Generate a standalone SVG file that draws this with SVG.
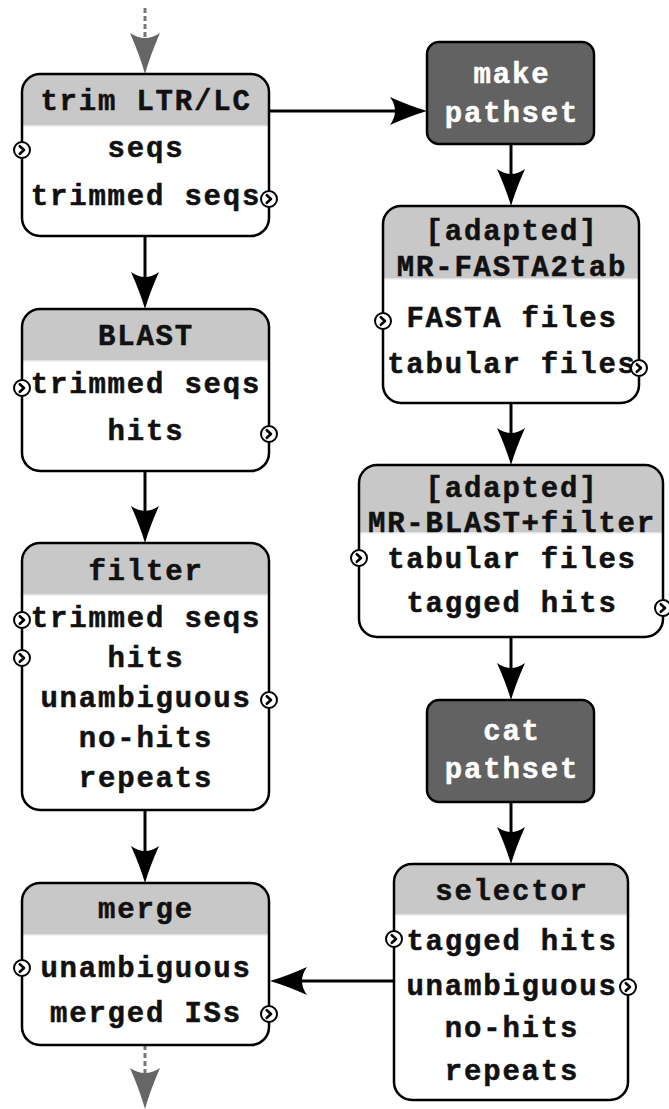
<svg xmlns="http://www.w3.org/2000/svg" xmlns:xlink="http://www.w3.org/1999/xlink" width="669" height="1109" viewBox="0 0 669 1109">
  <defs>
    <style>
      .box { fill: #ffffff; stroke: none; }
      .outline { fill: none; stroke: #000000; stroke-width: 2.5; }
      .hdr { fill: #c8c8c8; }
      .sep { stroke: #ececec; stroke-width: 1.5; }
      .dark { fill: #626262; stroke: #000000; stroke-width: 2.5; }
      .t { font-family: "Liberation Mono", "Courier New", monospace; font-weight: bold; font-size: 29px; letter-spacing: 1.8px; text-anchor: middle; fill: #111111; stroke: #111111; stroke-width: 0.5; }
      .w { fill: #ffffff; stroke: #ffffff; }
      .edge { fill: none; stroke: #000000; stroke-width: 3; }
      .dash { fill: none; stroke: #777777; stroke-width: 3; stroke-dasharray: 5 3; }
      .pc { fill: #ffffff; stroke: #000000; stroke-width: 2; }
      .pv { fill: none; stroke: #000000; stroke-width: 2.6; stroke-linecap: round; stroke-linejoin: round; }
    </style>
    <marker id="ah" viewBox="-12 -16 46 32" markerWidth="46" markerHeight="32" refX="0" refY="0" orient="auto" markerUnits="userSpaceOnUse">
      <path d="M29,0 Q12,-5 -8,-14 Q2,0 -8,14 Q12,5 29,0 Z" fill="#000000"/>
    </marker>
    <marker id="ahg" viewBox="-12 -17 48 34" markerWidth="48" markerHeight="34" refX="0" refY="0" orient="auto" markerUnits="userSpaceOnUse">
      <path d="M32,0 Q14,-5 -9,-15 Q1,0 -9,15 Q14,5 32,0 Z" fill="#666666"/>
    </marker>
    <g id="port">
      <circle class="pc" cx="0" cy="0" r="8"/>
      <path class="pv" d="M-2.2,-3.8 L2,0 L-2.2,3.8"/>
    </g>
  </defs>

  <rect width="669" height="1109" fill="#ffffff"/>

  <!-- connectors -->
  <g id="connectors">
    <path class="dash" d="M145,8 V42" marker-end="url(#ahg)"/>
    <path class="edge" d="M269,111 H398" marker-end="url(#ah)"/>
    <path class="edge" d="M145,236 V280" marker-end="url(#ah)"/>
    <path class="edge" d="M511,144 V177" marker-end="url(#ah)"/>
    <path class="edge" d="M511,403 V436" marker-end="url(#ah)"/>
    <path class="edge" d="M145,471 V514" marker-end="url(#ah)"/>
    <path class="edge" d="M511,637 V671" marker-end="url(#ah)"/>
    <path class="edge" d="M145,810 V854" marker-end="url(#ah)"/>
    <path class="edge" d="M511,802 V835" marker-end="url(#ah)"/>
    <path class="edge" d="M394,981 H299" marker-end="url(#ah)"/>
    <path class="dash" d="M145,1045 V1077" marker-end="url(#ahg)"/>
  </g>

  <!-- trim LTR/LC -->
  <g id="trim">
    <rect class="box" x="22" y="74" width="247" height="162" rx="18"/>
    <path class="hdr" d="M22,126 V92 A18,18 0 0 1 40,74 H251 A18,18 0 0 1 269,92 V126 Z"/>
    <line class="sep" x1="23" y1="126" x2="268" y2="126"/>
    <rect class="outline" x="22" y="74" width="247" height="162" rx="18"/>
    <text class="t" x="146" y="110">trim LTR/LC</text>
    <text class="t" x="146" y="157">seqs</text>
    <text class="t" x="146" y="205">trimmed seqs</text>
    <use xlink:href="#port" x="22" y="150"/>
    <use xlink:href="#port" x="269" y="199"/>
  </g>

  <!-- BLAST -->
  <g id="blast">
    <rect class="box" x="22" y="309" width="247" height="162" rx="18"/>
    <path class="hdr" d="M22,361 V327 A18,18 0 0 1 40,309 H251 A18,18 0 0 1 269,327 V361 Z"/>
    <line class="sep" x1="23" y1="361" x2="268" y2="361"/>
    <rect class="outline" x="22" y="309" width="247" height="162" rx="18"/>
    <text class="t" x="146" y="345">BLAST</text>
    <text class="t" x="146" y="393">trimmed seqs</text>
    <text class="t" x="146" y="440">hits</text>
    <use xlink:href="#port" x="22" y="388"/>
    <use xlink:href="#port" x="269" y="434"/>
  </g>

  <!-- filter -->
  <g id="filter">
    <rect class="box" x="22" y="543" width="247" height="267" rx="18"/>
    <path class="hdr" d="M22,595 V561 A18,18 0 0 1 40,543 H251 A18,18 0 0 1 269,561 V595 Z"/>
    <line class="sep" x1="23" y1="595" x2="268" y2="595"/>
    <rect class="outline" x="22" y="543" width="247" height="267" rx="18"/>
    <text class="t" x="146" y="580">filter</text>
    <text class="t" x="146" y="627">trimmed seqs</text>
    <text class="t" x="146" y="667">hits</text>
    <text class="t" x="146" y="707">unambiguous</text>
    <text class="t" x="146" y="747">no-hits</text>
    <text class="t" x="146" y="787">repeats</text>
    <use xlink:href="#port" x="22" y="620"/>
    <use xlink:href="#port" x="22" y="658"/>
    <use xlink:href="#port" x="269" y="700"/>
  </g>

  <!-- merge -->
  <g id="merge">
    <rect class="box" x="22" y="883" width="247" height="162" rx="18"/>
    <path class="hdr" d="M22,935 V901 A18,18 0 0 1 40,883 H251 A18,18 0 0 1 269,901 V935 Z"/>
    <line class="sep" x1="23" y1="935" x2="268" y2="935"/>
    <rect class="outline" x="22" y="883" width="247" height="162" rx="18"/>
    <text class="t" x="146" y="918">merge</text>
    <text class="t" x="146" y="977">unambiguous</text>
    <text class="t" x="146" y="1022">merged ISs</text>
    <use xlink:href="#port" x="22" y="968"/>
    <use xlink:href="#port" x="269" y="1014"/>
  </g>

  <!-- make pathset -->
  <g id="make-pathset">
    <rect class="dark" x="427" y="42" width="167" height="102" rx="12"/>
    <text class="t w" x="512" y="83">make</text>
    <text class="t w" x="512" y="122">pathset</text>
  </g>

  <!-- [adapted] MR-FASTA2tab -->
  <g id="fasta2tab">
    <rect class="box" x="383" y="206" width="256" height="197" rx="18"/>
    <path class="hdr" d="M383,279 V224 A18,18 0 0 1 401,206 H621 A18,18 0 0 1 639,224 V279 Z"/>
    <line class="sep" x1="384" y1="279" x2="638" y2="279"/>
    <rect class="outline" x="383" y="206" width="256" height="197" rx="18"/>
    <text class="t" x="512" y="240">[adapted]</text>
    <text class="t" x="512" y="276">MR-FASTA2tab</text>
    <text class="t" x="512" y="327">FASTA files</text>
    <text class="t" x="512" y="373">tabular files</text>
    <use xlink:href="#port" x="383" y="321"/>
    <use xlink:href="#port" x="639" y="368"/>
  </g>

  <!-- [adapted] MR-BLAST+filter -->
  <g id="blast-filter">
    <rect class="box" x="359" y="465" width="304" height="172" rx="18"/>
    <path class="hdr" d="M359,533 V483 A18,18 0 0 1 377,465 H645 A18,18 0 0 1 663,483 V533 Z"/>
    <line class="sep" x1="360" y1="533" x2="662" y2="533"/>
    <rect class="outline" x="359" y="465" width="304" height="172" rx="18"/>
    <text class="t" x="512" y="497">[adapted]</text>
    <text class="t" x="512" y="532">MR-BLAST+filter</text>
    <text class="t" x="512" y="568">tabular files</text>
    <text class="t" x="512" y="612">tagged hits</text>
    <use xlink:href="#port" x="359" y="558"/>
    <use xlink:href="#port" x="663" y="608"/>
  </g>

  <!-- cat pathset -->
  <g id="cat-pathset">
    <rect class="dark" x="427" y="700" width="167" height="102" rx="12"/>
    <text class="t w" x="512" y="740">cat</text>
    <text class="t w" x="512" y="778">pathset</text>
  </g>

  <!-- selector -->
  <g id="selector">
    <rect class="box" x="394" y="864" width="234" height="236" rx="18"/>
    <path class="hdr" d="M394,915 V882 A18,18 0 0 1 412,864 H610 A18,18 0 0 1 628,882 V915 Z"/>
    <line class="sep" x1="395" y1="915" x2="627" y2="915"/>
    <rect class="outline" x="394" y="864" width="234" height="236" rx="18"/>
    <text class="t" x="512" y="900">selector</text>
    <text class="t" x="512" y="950">tagged hits</text>
    <text class="t" x="512" y="995">unambiguous</text>
    <text class="t" x="512" y="1037">no-hits</text>
    <text class="t" x="512" y="1080">repeats</text>
    <use xlink:href="#port" x="394" y="939"/>
    <use xlink:href="#port" x="628" y="987"/>
  </g>
</svg>
